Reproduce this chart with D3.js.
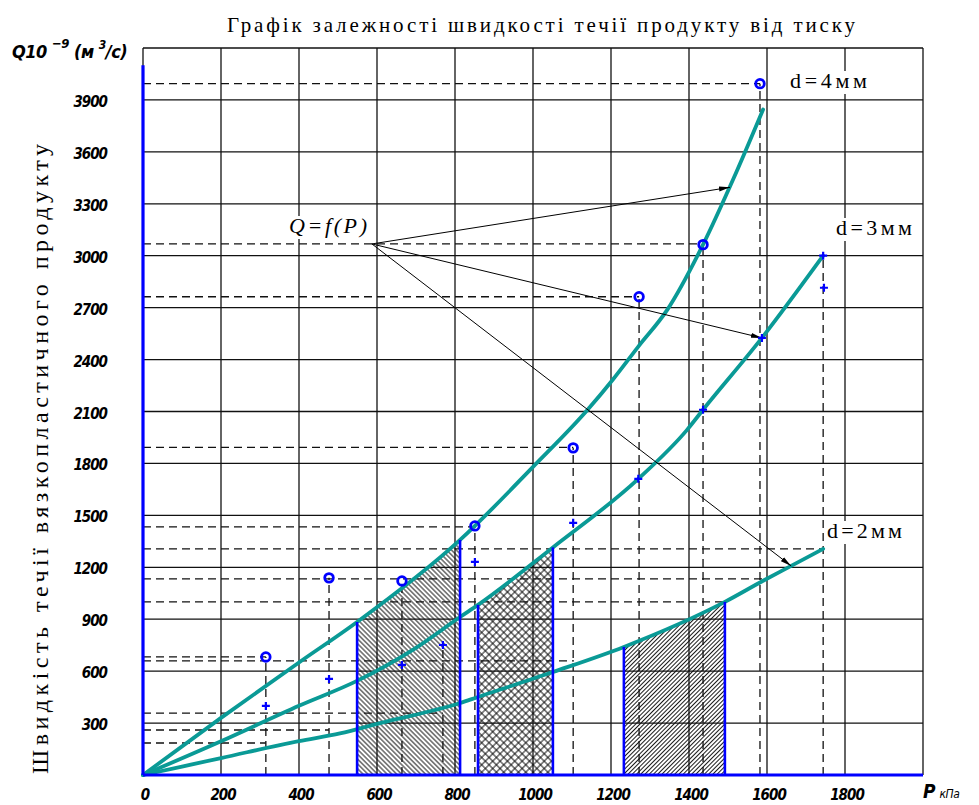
<!DOCTYPE html>
<html>
<head>
<meta charset="utf-8">
<script src="https://cdn.jsdelivr.net/npm/d3@7"></script>
<style>
  body { margin: 0; background: #fff; }
  svg { display: block; }
</style>
</head>
<body>
<div id="chart"></div>
<script>
// Values: P in kPa, Q in 10^-9 m3/s
const pTickLabels = ["0", "200", "400", "600", "800", "1000", "1200", "1400", "1600", "1800"];
const qTickLabels = ["300", "600", "900", "1200", "1500", "1800", "2100", "2400", "2700", "3000", "3300", "3600", "3900"];

const curveD4 = [[0, 0], [200, 330], [400, 650], [549, 884], [813, 1358], [1000, 1780], [1140, 2110],
  [1205, 2285], [1270, 2475], [1345, 2690], [1436, 3064], [1513, 3440], [1590, 3845]];
const curveD3 = [[0, 0], [200, 195], [400, 400], [550, 545], [700, 735], [813, 913], [859, 983],
  [1051, 1315], [1270, 1711], [1395, 1994], [1436, 2110], [1587, 2525], [1744, 3000]];
const curveD2 = [[0, 0], [200, 98], [400, 196], [505, 240], [608, 300], [813, 416], [859, 451],
  [1051, 595], [1233, 740], [1492, 1000], [1590, 1122], [1662, 1208], [1744, 1306]];
const curveNames = ["d=4мм", "d=3мм", "d=2мм"];

const circlePoints = [[315, 682], [477, 1139], [664, 1121], [851, 1439], [1103, 1890], [1272, 2763], [1436, 3064], [1582, 3994]];
const plusPoints = [[315, 399], [477, 555], [664, 636], [769, 751], [851, 1231], [1103, 1457], [1270, 1711],
  [1436, 2110], [1587, 2525], [1744, 3000], [1746, 2815]];

// dashed projections: vertical [P, Q top], horizontal [Q, P end]
const vGuides = [[315, 682], [477, 1139], [664, 1121], [769, 751], [851, 1439], [1103, 1890], [1272, 2763], [1436, 3064], [1582, 3994], [1744, 3000]];
const hGuides = [[3994, 1582], [3068, 1436], [2763, 1272], [1893, 1103], [1434, 851], [1306, 1744], [1133, 1590],
  [1000, 1492], [682, 315], [659, 1105], [358, 769], [260, 477], [185, 315]];

// shaded P ranges under d=4, d=3 and d=2
const hatchRanges = [[549, 813], [859, 1051], [1233, 1492]];

// Q=f(P) arrows
const arrowFrom = [587, 3068];
const arrowTo = [[1505, 3395], [1587, 2525], [1662, 1208]];

const W = 979, H = 805;
const x = d3.scaleLinear().domain([0, 2000]).range([143, 923]);
const y = d3.scaleLinear().domain([0, 4200]).range([775, 48]);

const teal = "#0a9a96";
const blue = "#0000ff";
const tickFont = "'DejaVu Sans Condensed', 'DejaVu Sans', sans-serif";
const serif = "'Liberation Serif', 'Times New Roman', serif";

const svg = d3.select("#chart").append("svg")
  .attr("width", W).attr("height", H);
svg.append("rect").attr("width", W).attr("height", H).attr("fill", "#fff");

const defs = svg.append("defs");

// hatch patterns
function makeHatch(id, angle, step, cross) {
  const p = defs.append("pattern")
    .attr("id", id)
    .attr("patternUnits", "userSpaceOnUse")
    .attr("width", step).attr("height", step)
    .attr("patternTransform", `rotate(${angle})`);
  p.append("line")
    .attr("x1", 0).attr("x2", step).attr("y1", step / 2).attr("y2", step / 2)
    .attr("stroke", "#000").attr("stroke-width", 0.9);
  if (cross) {
    p.append("line")
      .attr("y1", 0).attr("y2", step).attr("x1", step / 2).attr("x2", step / 2)
      .attr("stroke", "#000").attr("stroke-width", 0.9);
  }
}
makeHatch("hatch-back", 45, 3.4, false);
makeHatch("hatch-cross", 45, 5.2, true);
makeHatch("hatch-fwd", -45, 3.0, false);
const hatchIds = ["hatch-back", "hatch-cross", "hatch-fwd"];

const curves = [curveD4, curveD3, curveD2];

const line = d3.line().x(d => x(d[0])).y(d => y(d[1])).curve(d3.curveMonotoneX);
const area = d3.area().x(d => x(d[0])).y0(y(0)).y1(d => y(d[1])).curve(d3.curveMonotoneX);

// shaded regions
hatchRanges.forEach((r, i) => {
  defs.append("clipPath").attr("id", "clip" + i)
    .append("path").attr("d", area(curves[i]));
  svg.append("rect")
    .attr("x", x(r[0])).attr("width", x(r[1]) - x(r[0]))
    .attr("y", y(4200)).attr("height", y(0) - y(4200))
    .attr("fill", `url(#${hatchIds[i]})`)
    .attr("clip-path", `url(#clip${i})`);
});

// grid
const grid = svg.append("g").attr("stroke", "#111").attr("stroke-width", 1.3);
d3.range(0, 2001, 200).forEach(p => {
  grid.append("line").attr("x1", x(p)).attr("x2", x(p)).attr("y1", y(0)).attr("y2", y(4200));
});
d3.range(0, 4201, 300).forEach(q => {
  grid.append("line").attr("x1", x(0)).attr("x2", x(2000)).attr("y1", y(q)).attr("y2", y(q));
});

// dashed projections
const guides = svg.append("g").attr("stroke", "#111").attr("stroke-width", 1.3)
  .attr("stroke-dasharray", "8,5");
vGuides.forEach(g => {
  guides.append("line").attr("x1", x(g[0])).attr("x2", x(g[0])).attr("y1", y(0)).attr("y2", y(g[1]));
});
hGuides.forEach(g => {
  guides.append("line").attr("x1", x(0)).attr("x2", x(g[1])).attr("y1", y(g[0])).attr("y2", y(g[0]));
});

// curves
curves.forEach(c => {
  svg.append("path").attr("d", line(c))
    .attr("fill", "none").attr("stroke", teal)
    .attr("stroke-width", 3.8).attr("stroke-linecap", "round");
});

// blue edges of the shaded regions
function valueAt(c, p) {
  for (let k = 1; k < c.length; k++) {
    if (p <= c[k][0]) {
      const t = (p - c[k - 1][0]) / (c[k][0] - c[k - 1][0]);
      return c[k - 1][1] + t * (c[k][1] - c[k - 1][1]);
    }
  }
  return c[c.length - 1][1];
}
hatchRanges.forEach((r, i) => {
  r.forEach(p => {
    svg.append("line")
      .attr("x1", x(p)).attr("x2", x(p))
      .attr("y1", y(0)).attr("y2", y(valueAt(curves[i], p)))
      .attr("stroke", blue).attr("stroke-width", 2.6);
  });
});

// blue axes
svg.append("line").attr("x1", x(0)).attr("x2", x(0)).attr("y1", y(0)).attr("y2", y(4100))
  .attr("stroke", blue).attr("stroke-width", 3.2);
svg.append("line").attr("x1", x(0)).attr("x2", x(2000)).attr("y1", y(0)).attr("y2", y(0))
  .attr("stroke", blue).attr("stroke-width", 3.2);

// arrows
defs.append("marker")
  .attr("id", "arrow").attr("markerUnits", "userSpaceOnUse")
  .attr("markerWidth", 12).attr("markerHeight", 6)
  .attr("refX", 11).attr("refY", 3).attr("orient", "auto")
  .append("path").attr("d", "M0,0.5 L11,3 L0,5.5 Z").attr("fill", "#000");
arrowTo.forEach(t => {
  svg.append("line")
    .attr("x1", x(arrowFrom[0])).attr("y1", y(arrowFrom[1]))
    .attr("x2", x(t[0])).attr("y2", y(t[1]))
    .attr("stroke", "#000").attr("stroke-width", 1)
    .attr("marker-end", "url(#arrow)");
});

// markers
svg.append("g").selectAll("circle").data(circlePoints).join("circle")
  .attr("cx", d => x(d[0])).attr("cy", d => y(d[1])).attr("r", 4.3)
  .attr("fill", "none").attr("stroke", blue).attr("stroke-width", 2.8);
svg.append("g").selectAll("path").data(plusPoints).join("path")
  .attr("d", d => `M${x(d[0]) - 4},${y(d[1])}h8M${x(d[0])},${y(d[1]) - 4}v8`)
  .attr("stroke", blue).attr("stroke-width", 2.2);

// tick labels
svg.append("g").selectAll("text").data(pTickLabels).join("text")
  .attr("x", d => x(+d) + 2).attr("y", 800)
  .attr("text-anchor", "middle")
  .attr("font-family", tickFont).attr("font-style", "italic").attr("font-weight", "bold")
  .attr("font-size", 15).attr("letter-spacing", -1)
  .text(d => d);
svg.append("g").selectAll("text").data(qTickLabels).join("text")
  .attr("x", 107).attr("y", d => y(+d) + 7)
  .attr("text-anchor", "end")
  .attr("font-family", tickFont).attr("font-style", "italic").attr("font-weight", "bold")
  .attr("font-size", 15).attr("letter-spacing", -1)
  .text(d => d);

// axis unit labels
const qUnit = svg.append("text").attr("x", 12).attr("y", 58)
  .attr("font-family", tickFont).attr("font-style", "italic").attr("font-weight", "bold")
  .attr("font-size", 18).attr("letter-spacing", -0.5);
qUnit.append("tspan").text("Q10 ");
qUnit.append("tspan").attr("dy", -10).attr("font-size", 13).text("−9");
qUnit.append("tspan").attr("dy", 10).text(" (м ");
qUnit.append("tspan").attr("dy", -9).attr("font-size", 12).text("3");
qUnit.append("tspan").attr("dy", 9).text("/с)");

const pUnit = svg.append("text").attr("x", 923).attr("y", 798)
  .attr("font-family", tickFont).attr("font-style", "italic");
pUnit.append("tspan").attr("font-size", 19).attr("font-weight", "bold").text("P");
pUnit.append("tspan").attr("dx", 4).attr("font-size", 12).attr("letter-spacing", -0.5).text("кПа");

// title and axis title
svg.append("text").attr("x", 227).attr("y", 32)
  .attr("font-family", serif).attr("font-size", 21)
  .attr("textLength", 628).attr("lengthAdjust", "spacing")
  .text("Графік залежності швидкості течії продукту від тиску");
svg.append("text")
  .attr("transform", "translate(48,774) rotate(-90)")
  .attr("font-family", serif).attr("font-size", 24)
  .attr("textLength", 630).attr("lengthAdjust", "spacing")
  .text("Швидкість течії вязкопластичного продукту");

// curve names and Q=f(P), on white boxes
const boxedLabels = [
  { text: curveNames[0], x: 790, y: 88, w: 77 },
  { text: curveNames[1], x: 836, y: 235, w: 76 },
  { text: curveNames[2], x: 827, y: 538, w: 75 },
  { text: "Q=f(P)", x: 289, y: 233, w: 78, italic: true }
];
boxedLabels.forEach(l => {
  svg.append("rect").attr("x", l.x - 2).attr("y", l.y - 17).attr("width", l.w + 4).attr("height", 23)
    .attr("fill", "#fff");
  svg.append("text").attr("x", l.x).attr("y", l.y)
    .attr("font-family", serif).attr("font-size", 22)
    .attr("font-style", l.italic ? "italic" : "normal")
    .attr("textLength", l.w).attr("lengthAdjust", "spacing")
    .text(l.text);
});
</script>
</body>
</html>
